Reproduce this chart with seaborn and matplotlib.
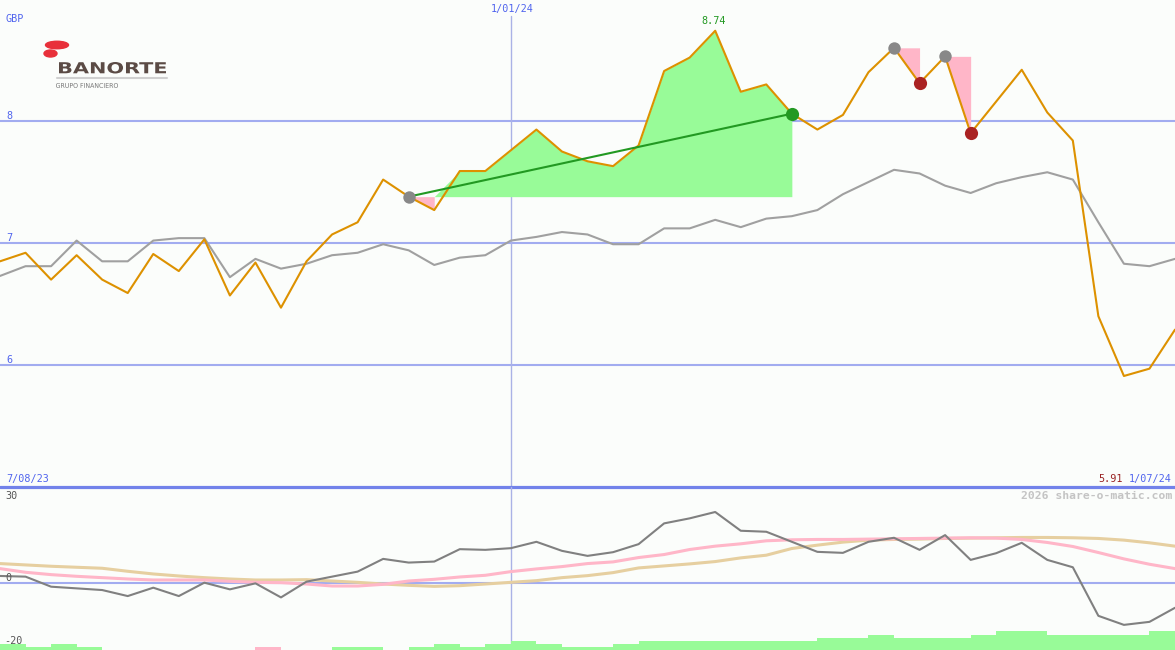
import matplotlib
matplotlib.use("Agg")
import matplotlib.pyplot as plt
import seaborn as sns
import numpy as np
import pandas as pd
from matplotlib.patches import Ellipse, PathPatch
from matplotlib.textpath import TextPath
from matplotlib.font_manager import FontProperties
from matplotlib.transforms import Affine2D

# ---------------- data ----------------
dates = pd.date_range("2023-08-14", periods=47, freq="7D")
price = [6.85, 6.92, 6.70, 6.90, 6.70, 6.59, 6.91, 6.77, 7.03, 6.57,
         6.84, 6.47, 6.85, 7.07, 7.17, 7.52, 7.38, 7.27, 7.59, 7.59,
         7.76, 7.93, 7.75, 7.67, 7.63, 7.80, 8.41, 8.52, 8.74, 8.24,
         8.30, 8.06, 7.93, 8.05, 8.40, 8.60, 8.31, 8.53, 7.90, 8.16,
         8.42, 8.07, 7.84, 6.40, 5.91, 5.97, 6.29]
benchmark = [6.73, 6.81, 6.81, 7.02, 6.85, 6.85, 7.02, 7.04, 7.04, 6.72,
             6.87, 6.79, 6.83, 6.90, 6.92, 6.99, 6.94, 6.82, 6.88, 6.90,
             7.02, 7.05, 7.09, 7.07, 6.99, 6.99, 7.12, 7.12, 7.19, 7.13,
             7.20, 7.22, 7.27, 7.40, 7.50, 7.60, 7.57, 7.47, 7.41, 7.49,
             7.54, 7.58, 7.52, 7.17, 6.83, 6.81, 6.87]
momentum = [2.1, 1.9, -1.1, -1.6, -2.1, -3.9, -1.4, -3.9, 0.1, -1.9,
            -0.1, -4.3, 0.4, 1.9, 3.4, 7.2, 6.1, 6.4, 10.1, 9.9,
            10.4, 12.3, 9.6, 8.1, 9.2, 11.6, 17.8, 19.3, 21.2, 15.6,
            15.3, 12.3, 9.3, 9.0, 12.3, 13.5, 9.9, 14.3, 6.9, 8.9,
            12.0, 6.9, 4.7, -9.8, -12.5, -11.6, -7.4]
avg_short = [4.3, 3.2, 2.5, 2.0, 1.6, 1.2, 0.9, 0.9, 0.9, 0.5,
             0.2, 0.1, -0.3, -0.9, -0.9, -0.4, 0.6, 1.1, 1.8, 2.3,
             3.4, 4.2, 4.9, 5.8, 6.3, 7.6, 8.5, 10.0, 11.0, 11.7,
             12.6, 12.9, 13.0, 13.0, 13.1, 13.2, 13.3, 13.4, 13.5, 13.4,
             13.0, 12.1, 10.9, 9.1, 7.2, 5.6, 4.3]
avg_long = [5.8, 5.4, 5.0, 4.7, 4.4, 3.5, 2.7, 2.1, 1.6, 1.2,
            0.9, 0.9, 1.0, 0.6, 0.2, -0.3, -0.7, -1.0, -0.8, -0.3,
            0.2, 0.7, 1.6, 2.2, 3.1, 4.5, 5.1, 5.7, 6.4, 7.5,
            8.3, 10.3, 11.3, 12.2, 12.8, 13.0, 13.1, 13.3, 13.4, 13.5,
            13.6, 13.6, 13.5, 13.3, 12.8, 12.0, 11.0]
signal_bars = [1.8, 0.9, 1.8, 0.9, 0, 0, 0, 0, 0, 0,
               -0.9, 0, 0, 0.9, 0.9, 0, 0.9, 1.8, 0.9, 1.8,
               2.7, 1.8, 0.9, 0.9, 1.8, 2.7, 2.7, 2.7, 2.7, 2.7,
               2.7, 2.7, 3.6, 3.6, 4.5, 3.6, 3.6, 3.6, 4.5, 5.7,
               5.7, 4.5, 4.5, 4.5, 4.5, 5.7]
buy_idx = 16
sell_idx = 31
peak_idx = [35, 37]
trough_idx = [36, 38]
y_ticks = [6, 7, 8]
currency = "GBP"
start_label = "7/08/23"
end_label = "1/07/24"
mid_label = "1/01/24"
mid_date = pd.Timestamp("2024-01-01")
low_ticks = ["30", "0", "-20"]

# ---------------- style ----------------
sns.set_theme(style="white")
plt.rcParams["font.family"] = ["DejaVu Sans Mono"]
W, H = 1175, 650
BG = "#FBFDFB"
ORANGE = "#DD9100"
GRID = "#A2ACF0"
SEP = "#7282EA"
BLUE_TXT = "#5064EE"
GREEN_FILL = "#98FB98"
PINK = "#FFB6C8"
TAN = "#E6CFA0"
GREEN = "#229922"
RED = "#AA2222"

fig = plt.figure(figsize=(W / 100, H / 100), dpi=100, facecolor=BG)
ax = fig.add_axes([0, 163 / H, 1, 487 / H])
axl = fig.add_axes([0, 0, 1, 163 / H])
for a in (ax, axl):
    a.set_facecolor("none")
    a.axis("off")

idx = np.arange(len(price))
pr = np.array(price)
mid_pos = int(np.argmin(np.abs((dates - mid_date).days)))

# ---------------- main panel ----------------
ax.set_xlim(0, len(price) - 1)
ax.set_ylim(5, 8.992)
for v in y_ticks:
    ax.axhline(v, color=GRID, lw=1.5, zorder=1)
ax.axhline(5, color=SEP, lw=2.3, zorder=6, clip_on=False)
ax.axvline(mid_pos, ymax=(487 - 16) / 487, color="#AAB2E6", lw=1.0, zorder=1)

base = pr[buy_idx]
# pink dip right after the buy point
ax.fill_between(idx[buy_idx:buy_idx + 2], pr[buy_idx:buy_idx + 2], base,
                color=PINK, lw=0, zorder=2)
# green gain area up to the sell point
g_x = idx[buy_idx + 1:sell_idx + 1]
g_y = np.r_[base, pr[buy_idx + 2:sell_idx + 1]]
ax.fill_between(g_x, g_y, base, color=GREEN_FILL, lw=0, zorder=2)
for p, t in zip(peak_idx, trough_idx):
    ax.fill_between(idx[p:t + 1], pr[p:t + 1], pr[p], color=PINK, lw=0, zorder=2)

sns.lineplot(x=idx, y=benchmark, ax=ax, color="#A0A0A0", lw=1.5, zorder=3)
sns.lineplot(x=idx, y=price, ax=ax, color=ORANGE, lw=1.5, zorder=4)
sns.lineplot(x=[buy_idx, sell_idx], y=[pr[buy_idx], pr[sell_idx]], ax=ax,
             color=GREEN, lw=1.5, zorder=5)
sns.scatterplot(x=[buy_idx] + peak_idx, y=pr[[buy_idx] + peak_idx], ax=ax,
                color="#888888", s=80, linewidth=0, zorder=6)
sns.scatterplot(x=trough_idx, y=pr[trough_idx], ax=ax,
                color=RED, s=90, linewidth=0, zorder=6)
sns.scatterplot(x=[sell_idx], y=[pr[sell_idx]], ax=ax,
                color=GREEN, s=90, linewidth=0, zorder=6)
ax.set_xlabel("")
ax.set_ylabel("")

# ---------------- lower panel ----------------
axl.set_xlim(0, len(price) - 1)
axl.set_ylim(-20, 28.66)
axl.axhline(0, color=GRID, lw=1.5, zorder=1)
axl.axvline(mid_pos, color="#AAB2E6", lw=1.0, zorder=1)
sb = np.array(signal_bars)
axl.bar(np.arange(len(sb)) + 0.5, np.abs(sb), width=1.0, bottom=-20,
        color=[GREEN_FILL if v >= 0 else PINK for v in sb], lw=0, zorder=2)
sns.lineplot(x=idx, y=avg_long, ax=axl, color=TAN, lw=2.2, zorder=3)
sns.lineplot(x=idx, y=avg_short, ax=axl, color=PINK, lw=2.2, zorder=3)
sns.lineplot(x=idx, y=momentum, ax=axl, color="#808080", lw=1.5, zorder=4)
axl.set_xlabel("")
axl.set_ylabel("")

# ---------------- texts ----------------
def ptext(x, y, s, **kw):
    fig.text(x / W, 1 - y / H, s, **kw)

fs = 7.3
ptext(6, 19, currency, color=BLUE_TXT, fontsize=fs, va="center")
for v in y_ticks:
    ypix = 121 + (8 - v) * 122
    ptext(6, ypix - 5, str(v), color=BLUE_TXT, fontsize=fs, va="center")
ptext(512, 9, mid_label, color=BLUE_TXT, fontsize=fs, va="center", ha="center")
ptext(714 + (int(np.argmax(pr)) - 28) * 25.5, 21, f"{pr.max():.2f}", color=GREEN,
      fontsize=fs, va="center", ha="center")
ptext(6, 479, start_label, color=BLUE_TXT, fontsize=fs, va="center")
ptext(1172, 479, end_label, color=BLUE_TXT, fontsize=fs, va="center", ha="right")
ptext(1123, 479, f"{pr.min():.2f}", color="#992222", fontsize=fs, va="center", ha="right")
ptext(1172, 496, "2026 share-o-matic.com", color="#C4C4C4", fontsize=8.2,
      va="center", ha="right", fontweight="bold")
ptext(5, 496, low_ticks[0], color="#555555", fontsize=fs, va="center")
ptext(5, 578, low_ticks[1], color="#555555", fontsize=fs, va="center")
ptext(4, 641, low_ticks[2], color="#555555", fontsize=fs, va="center")

# ---------------- logo ----------------
fig.patches.append(Ellipse((57 / W, 1 - 45 / H), 23 / W, 7.5 / H,
                           transform=fig.transFigure, color="#E8303A", zorder=10))
fig.patches.append(Ellipse((50.5 / W, 1 - 53.5 / H), 13 / W, 7 / H,
                           transform=fig.transFigure, color="#E8303A", zorder=10))


def stretched_text(s, x0, x1, ytop, ybot, color, weight="normal"):
    tp = TextPath((0, 0), s, size=10,
                  prop=FontProperties(family="DejaVu Sans", weight=weight))
    bb = tp.get_extents()
    sx = (x1 - x0) / bb.width
    sy = (ybot - ytop) / bb.height
    tr = (Affine2D().translate(-bb.x0, -bb.y0).scale(sx, sy)
          .translate(x0, H - ybot))
    fig.patches.append(PathPatch(tp, transform=tr, color=color, lw=0, zorder=11))


stretched_text("BANORTE", 59, 166, 62, 73.5, "#5B4B45", weight="bold")
fig.add_artist(plt.Line2D([57 / W, 167 / W], [1 - 78 / H, 1 - 78 / H],
                          transform=fig.transFigure, color="#D0D0D0", lw=1.5))
stretched_text("GRUPO FINANCIERO", 56, 118, 83, 88, "#777777")

fig.savefig("out.png", dpi=100, facecolor=BG)
